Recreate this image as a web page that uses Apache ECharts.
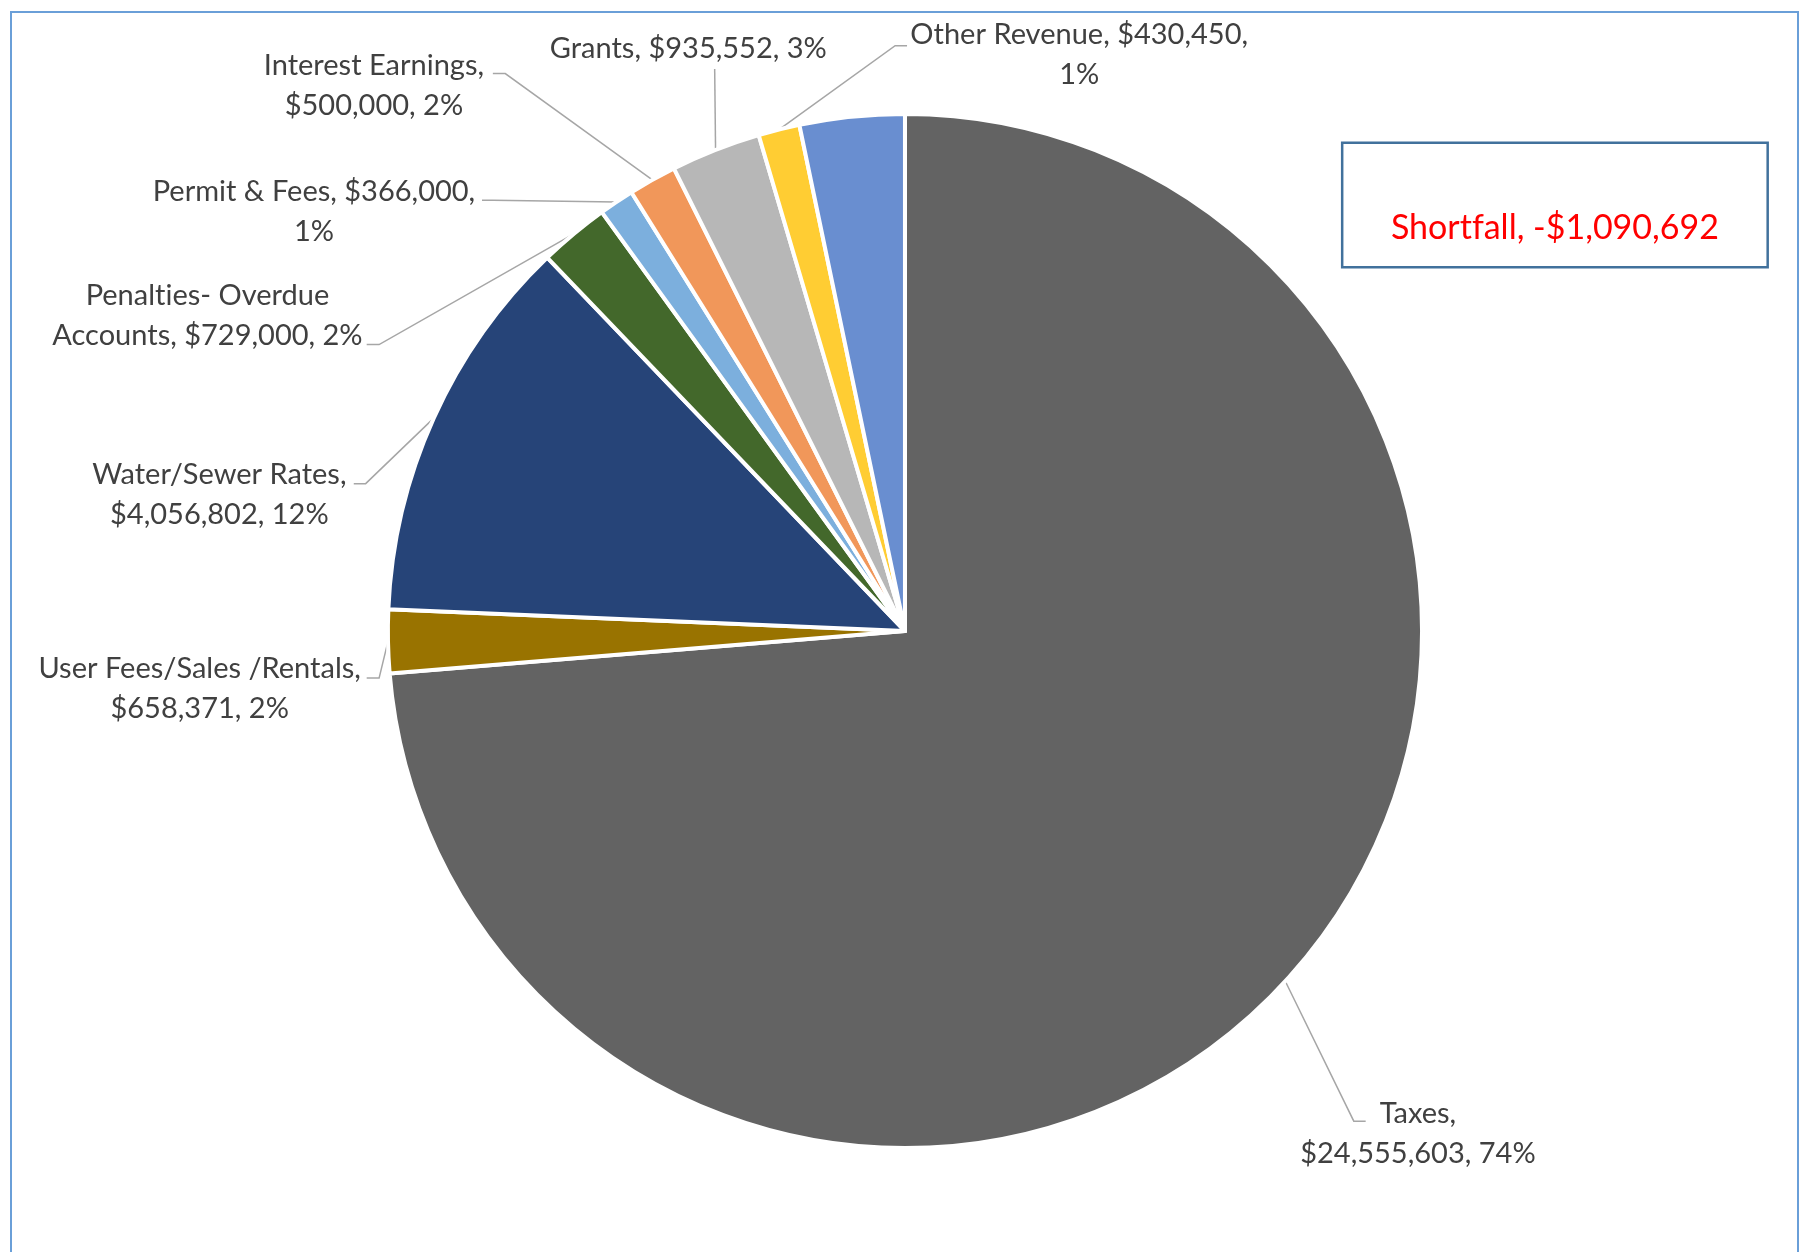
<!DOCTYPE html>
<html>
<head>
<meta charset="utf-8">
<title>Revenue Sources</title>
<script src="https://cdn.jsdelivr.net/npm/echarts@6/dist/echarts.min.js"></script>
<style>
  html, body { margin: 0; padding: 0; background: #ffffff; }
  #chart { width: 1802px; height: 1252px; }
</style>
</head>
<body>
<div id="chart"></div>
<script>
// Revenue sources, clockwise from 12 o'clock
const categories = [
  'Taxes',
  'User Fees/Sales /Rentals',
  'Water/Sewer Rates',
  'Penalties- Overdue Accounts',
  'Permit & Fees',
  'Interest Earnings',
  'Grants',
  'Other Revenue',
  'Shortfall'
];
const revenueValues = [24555603, 658371, 4056802, 729000, 366000, 500000, 935552, 430450, 1090692];
const sliceColors = ['#636363', '#997300', '#264478', '#43682B', '#7CAFDD', '#F1975A', '#B7B7B7', '#FFCD33', '#698ED0'];
// where each label text wraps onto a second line
const labelWrap = ['name', 'name', 'name', 'inName', 'amount', 'name', 'none', 'amount', 'none'];

const SHORTFALL = categories.indexOf('Shortfall');

// pie geometry (fractions of the container)
const PIE_CENTER = [0.5022, 0.504];
const PIE_RADIUS = 0.826;

// label anchors and leader elbows, in pie radii from the centre
const labelPlacement = [
  { at: [0.992, 0.972],   line: [[0.868, 0.948], [0.891, 0.948]] },
  { at: [-1.364, 0.112],  line: [[-1.017, 0.091], [-1.041, 0.091]] },
  { at: [-1.326, -0.264], line: [[-1.043, -0.285], [-1.066, -0.285]] },
  { at: [-1.349, -0.609], line: [[-1.017, -0.554], [-1.041, -0.554]] },
  { at: [-1.143, -0.812], line: [[-0.797, -0.833], [-0.818, -0.833]] },
  { at: [-1.027, -1.055], line: [[-0.773, -1.078], [-0.797, -1.078]] },
  { at: [-0.419, -1.126], line: [[-0.368, -1.087]] },
  { at: [0.337, -1.114],  line: [[-0.019, -1.132], [0.004, -1.132]] },
  { at: [1.257, -0.942],  line: null, valign: 'top' }
];

function money(v) {
  return '$' + Math.round(v).toLocaleString('en-US');
}

// draw letter pairs that the font would join (ti, tf, ...) as separate runs
function plainRuns(s) {
  return s.split(/(?<=[tf])(?=[iflt])/).map(part => '{t|' + part + '}').join('');
}

function labelText(p) {
  const i = p.dataIndex;
  const name = categories[i];
  const amt = money(p.value);
  if (i === SHORTFALL) return plainRuns(name + ', -' + amt);
  const pct = Math.round(p.percent) + '%';
  let s;
  switch (labelWrap[i]) {
    case 'name':
      s = name + ',\n' + amt + ', ' + pct;
      break;
    case 'amount':
      s = name + ', ' + amt + ',\n' + pct;
      break;
    case 'inName': {
      const k = name.lastIndexOf(' ');
      s = name.slice(0, k) + '\n' + name.slice(k + 1) + ', ' + amt + ', ' + pct;
      break;
    }
    default:
      s = name + ', ' + amt + ', ' + pct;
  }
  return plainRuns(s);
}

const chart = echarts.init(document.getElementById('chart'), null, { renderer: 'canvas' });

const pieData = categories.map((name, i) => {
  const item = {
    name: name,
    value: revenueValues[i],
    itemStyle: { color: sliceColors[i] }
  };
  if (i === SHORTFALL) {
    item.label = {
      color: '#FF0000',
      fontSize: 34,
      lineHeight: 44,
      width: 423,
      padding: [62, 0, 16, 0],
      borderColor: '#41719C',
      borderWidth: 2.5,
      backgroundColor: '#ffffff',
      rich: {
        t: { fontFamily: 'Lato', fontSize: 34, lineHeight: 44, color: '#FF0000', align: 'center' }
      }
    };
    item.labelLine = { show: false };
  }
  return item;
});

function placeLabel(p) {
  const w = chart.getWidth(), h = chart.getHeight();
  const cx = w * PIE_CENTER[0], cy = h * PIE_CENTER[1];
  const r = Math.min(w, h) / 2 * PIE_RADIUS;
  const toPx = (uv) => [cx + uv[0] * r, cy + uv[1] * r];
  const pl = labelPlacement[p.dataIndex];
  const at = toPx(pl.at);
  const out = { x: at[0], y: at[1], align: 'center', verticalAlign: pl.valign || 'middle' };
  if (pl.line && p.labelLinePoints) {
    out.labelLinePoints = [p.labelLinePoints[0]].concat(pl.line.map(toPx));
  }
  return out;
}

chart.setOption({
  animation: false,
  backgroundColor: '#ffffff',
  graphic: [{
    type: 'rect',
    silent: true,
    z: -10,
    shape: { x: 11, y: 12, width: 1787, height: 1300 },
    style: { fill: 'none', stroke: '#6A9FD8', lineWidth: 2 }
  }],
  series: [{
    type: 'pie',
    center: [(PIE_CENTER[0] * 100) + '%', (PIE_CENTER[1] * 100) + '%'],
    radius: [0, (PIE_RADIUS * 100) + '%'],
    startAngle: 90,
    clockwise: true,
    avoidLabelOverlap: false,
    silent: true,
    data: pieData,
    itemStyle: { borderColor: '#ffffff', borderWidth: 4 },
    label: {
      show: true,
      position: 'outside',
      formatter: labelText,
      fontFamily: 'Lato',
      fontSize: 29,
      lineHeight: 40,
      color: '#404040',
      rich: {
        t: { fontFamily: 'Lato', fontSize: 29, lineHeight: 40, color: '#404040', align: 'center' }
      }
    },
    labelLine: {
      show: true,
      length: 30,
      length2: 10,
      smooth: false,
      lineStyle: { color: '#A6A6A6', width: 1.5 }
    },
    labelLayout: placeLabel
  }]
});
</script>
</body>
</html>
